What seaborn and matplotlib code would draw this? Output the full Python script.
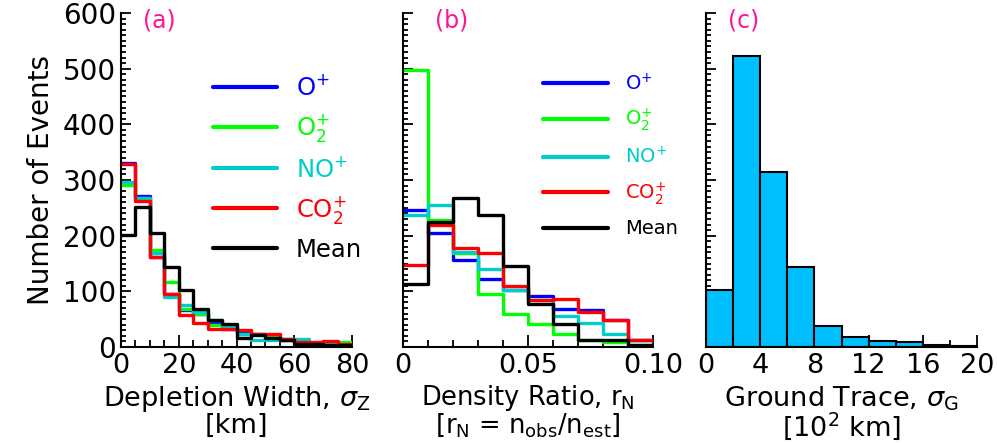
import numpy as np
import pandas as pd
import matplotlib
matplotlib.use("Agg")
import matplotlib.pyplot as plt
from matplotlib.ticker import MultipleLocator
import seaborn as sns

# ---------------- data ----------------
# (a) Depletion width, bins of 5 km from 0 to 80
width_edges = list(range(0, 85, 5))
width_O = [331, 271, 162, 96, 67, 60, 45, 33, 27, 24, 18, 12, 9, 3, 6, 3]
width_O2 = [291, 267, 174, 117, 69, 60, 39, 36, 24, 24, 21, 15, 12, 6, 6, 9]
width_NO = [297, 267, 168, 90, 75, 63, 48, 36, 24, 12, 12, 15, 15, 6, 6, 3]
width_CO2 = [329, 262, 162, 96, 57, 43, 33, 33, 30, 24, 24, 15, 9, 9, 11, 6]
width_mean = [201, 252, 205, 144, 103, 69, 48, 42, 17, 21, 17, 13, 6, 6, 3, 3]

# (b) Density ratio, bins of 0.01 from 0 to 0.10
ratio_edges = [0.0, 0.01, 0.02, 0.03, 0.04, 0.05, 0.06, 0.07, 0.08, 0.09, 0.10]
ratio_O = [246, 204, 156, 123, 102, 91, 69, 66, 49, 12]
ratio_O2 = [498, 228, 168, 96, 60, 42, 24, 12, 9, 3]
ratio_NO = [238, 255, 171, 141, 102, 85, 55, 43, 24, 12]
ratio_CO2 = [147, 219, 177, 168, 110, 85, 87, 63, 49, 12]
ratio_mean = [114, 225, 267, 237, 145, 77, 41, 12, 12, 3]

# (c) Ground trace, bins of 2 (x10^2 km) from 0 to 20
trace_edges = [0, 2, 4, 6, 8, 10, 12, 14, 16, 18, 20]
trace_counts = [102, 522, 315, 144, 38, 18, 11, 9, 4, 1]

series_labels = [r"O$^{+}$", r"O$_{2}^{+}$", r"NO$^{+}$", r"CO$_{2}^{+}$", "Mean"]
series_colors = ["#0000FF", "#00FF00", "#00CCCC", "#FF0000", "#000000"]

sns.set_style("ticks")
plt.rcParams["font.family"] = ["DejaVu Sans"]
plt.rcParams["mathtext.fontset"] = "dejavusans"
plt.rcParams["text.color"] = "black"
plt.rcParams["axes.labelcolor"] = "black"
plt.rcParams["xtick.color"] = "black"
plt.rcParams["ytick.color"] = "black"

fig = plt.figure(figsize=(9.97, 4.43), dpi=100)
H = 443.0
W = 997.0
bottom = 1 - 347 / H
height = (347 - 13) / H
ax_a = fig.add_axes([121 / W, bottom, 231 / W, height])
ax_b = fig.add_axes([403 / W, bottom, 250 / W, height])
ax_c = fig.add_axes([706 / W, bottom, 271 / W, height])

pink = "#FF1493"


def centers(edges):
    e = np.asarray(edges, dtype=float)
    return (e[:-1] + e[1:]) / 2


def step_panel(ax, edges, series):
    c = centers(edges)
    for vals, col, lab in zip(series, series_colors, series_labels):
        sns.histplot(x=c, weights=vals, bins=edges, element="step", fill=False,
                     color=col, linewidth=2.4, ax=ax, label=lab)


step_panel(ax_a, width_edges, [width_O, width_O2, width_NO, width_CO2, width_mean])
step_panel(ax_b, ratio_edges, [ratio_O, ratio_O2, ratio_NO, ratio_CO2, ratio_mean])
sns.histplot(x=centers(trace_edges), weights=trace_counts, bins=trace_edges,
             color="#00BFFF", edgecolor="black", linewidth=1.5, alpha=1.0, ax=ax_c)

for ax in (ax_a, ax_b, ax_c):
    ax.set_ylim(0, 600)
    ax.yaxis.set_major_locator(MultipleLocator(100))
    ax.yaxis.set_minor_locator(MultipleLocator(10))
    ax.tick_params(axis="both", which="both", direction="in", width=1.3,
                   colors="black", labelcolor="black")
    ax.tick_params(axis="y", which="major", length=7)
    ax.tick_params(axis="y", which="minor", length=3.5)
    ax.tick_params(axis="x", which="major", length=9, labelsize=19.5, pad=4)
    ax.tick_params(axis="x", which="minor", length=5)
    ax.tick_params(axis="y", labelsize=20)
    for s in ("top", "right"):
        ax.spines[s].set_visible(False)
    for s in ("left", "bottom"):
        ax.spines[s].set_linewidth(1.5)
        ax.spines[s].set_color("black")
    ax.set_ylabel("")

xlab_kw = dict(fontsize=19.5, labelpad=4, linespacing=0.92, color="black")

ax_a.set_xlim(0, 80)
ax_a.xaxis.set_major_locator(MultipleLocator(20))
ax_a.xaxis.set_minor_locator(MultipleLocator(5))
ax_a.set_ylabel("Number of Events", fontsize=20, labelpad=6, color="black")
ax_a.set_xlabel("Depletion Width, $\\sigma_{\\mathrm{Z}}$\n[km]", **xlab_kw)

ax_b.set_xlim(0, 0.10)
ax_b.set_xticks([0, 0.05, 0.10])
ax_b.set_xticklabels(["0", "0.05", "0.10"])
ax_b.xaxis.set_minor_locator(MultipleLocator(0.01))
ax_b.set_yticklabels([])
ax_b.set_xlabel("Density Ratio, r$_{\\mathrm{N}}$\n[r$_{\\mathrm{N}}$ = n$_{\\mathrm{obs}}$/n$_{\\mathrm{est}}$]",
                fontsize=18.5, labelpad=3, linespacing=0.92, color="black")

ax_c.set_xlim(0, 20)
ax_c.xaxis.set_major_locator(MultipleLocator(4))
ax_c.xaxis.set_minor_locator(MultipleLocator(2))
ax_c.set_yticklabels([])
ax_c.set_xlabel("Ground Trace, $\\sigma_{\\mathrm{G}}$\n[10$^{2}$ km]", **xlab_kw)

# panel labels
ax_a.text(0.095, 0.978, "(a)", transform=ax_a.transAxes, color=pink, fontsize=17, va="center", ha="left")
ax_b.text(0.128, 0.978, "(b)", transform=ax_b.transAxes, color=pink, fontsize=17, va="center", ha="left")
ax_c.text(0.081, 0.978, "(c)", transform=ax_c.transAxes, color=pink, fontsize=17, va="center", ha="left")

# legends
leg_a = ax_a.legend(loc="center left", bbox_to_anchor=(0.40, 0.534), frameon=False,
                    fontsize=17.5, handlelength=2.6, handletextpad=0.8, labelspacing=0.5,
                    borderpad=0, borderaxespad=0, labelcolor="linecolor")
leg_b = ax_b.legend(loc="center left", bbox_to_anchor=(0.56, 0.573), frameon=False,
                    fontsize=14, handlelength=3.35, handletextpad=0.88, labelspacing=0.65,
                    borderpad=0, borderaxespad=0, labelcolor="linecolor")
for leg in (leg_a, leg_b):
    for ln in leg.get_lines():
        ln.set_linewidth(3)

fig.savefig("out.png", dpi=100)
